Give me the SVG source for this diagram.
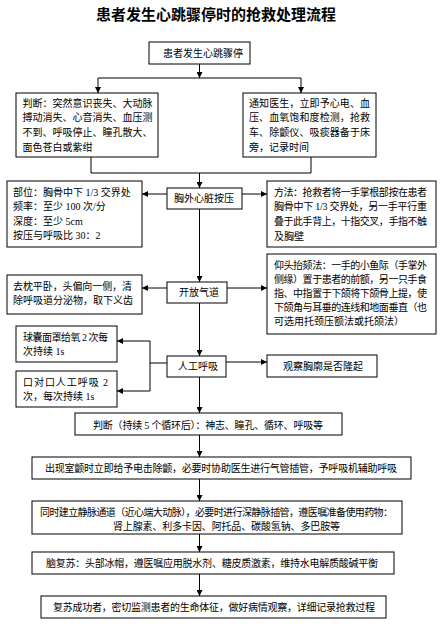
<svg xmlns="http://www.w3.org/2000/svg" width="442" height="629" viewBox="0 0 442 629">
<style>
.b{fill:#fff;stroke:#000;stroke-width:1}
.t{font-family:"Liberation Serif","Noto Sans CJK SC",serif;font-size:10px;fill:#000}
.ttl{font-family:"Noto Sans CJK SC","Liberation Sans",sans-serif;font-size:15px;font-weight:bold;fill:#000}
.c{fill:none;stroke:#000;stroke-width:1}
</style>
<defs>
<marker id="ah" markerUnits="userSpaceOnUse" markerWidth="6" markerHeight="6" refX="6" refY="3" orient="auto">
<path d="M0,0 L6,3 L0,6 z" fill="#000"/>
</marker>
</defs>
<rect width="442" height="629" fill="#fff"/>
<text class="ttl" x="216" y="20" text-anchor="middle">患者发生心跳骤停时的抢救处理流程</text>

<g id="connectors">
<path class="c" d="M199.5,64 V78" marker-end="url(#ah)"/>
<path class="c" d="M98,78 H301"/>
<path class="c" d="M98,78 V93" marker-end="url(#ah)"/>
<path class="c" d="M301,78 V93" marker-end="url(#ah)"/>
<path class="c" d="M91,157 V173 H311 V157"/>
<path class="c" d="M199.5,173 V188" marker-end="url(#ah)"/>
<path class="c" d="M167,194 H142" marker-end="url(#ah)"/>
<path class="c" d="M242,194 H267" marker-end="url(#ah)"/>
<path class="c" d="M199.5,209 V282" marker-end="url(#ah)"/>
<path class="c" d="M167,288 H142" marker-end="url(#ah)"/>
<path class="c" d="M227,288 H267" marker-end="url(#ah)"/>
<path class="c" d="M199.5,303 V356" marker-end="url(#ah)"/>
<path class="c" d="M226,362 H267" marker-end="url(#ah)"/>
<path class="c" d="M167,363 H150"/>
<path class="c" d="M150,341 V391"/>
<path class="c" d="M150,341 H117" marker-end="url(#ah)"/>
<path class="c" d="M150,391 H117" marker-end="url(#ah)"/>
<path class="c" d="M199.5,377 V413" marker-end="url(#ah)"/>
<path class="c" d="M199.5,435 V457" marker-end="url(#ah)"/>
<path class="c" d="M199.5,479 V501" marker-end="url(#ah)"/>
<path class="c" d="M199.5,534 V552" marker-end="url(#ah)"/>
<path class="c" d="M199.5,574 V596" marker-end="url(#ah)"/>
</g>

<g id="n_start">
<rect class="b" x="149" y="42" width="101" height="22"/>
<text class="t" x="163" y="56.5">患者发生心跳骤停</text>
</g>

<g id="n_judge1">
<rect class="b" x="16" y="93" width="142" height="64"/>
<text class="t" x="22.5" y="107" textLength="130" lengthAdjust="spacing">判断：突然意识丧失、大动脉</text>
<text class="t" x="22.5" y="121" textLength="130" lengthAdjust="spacing">搏动消失、心音消失、血压测</text>
<text class="t" x="22.5" y="136" textLength="130" lengthAdjust="spacing">不到、呼吸停止、瞳孔散大、</text>
<text class="t" x="22.5" y="150.5">面色苍白或紫绀</text>
</g>

<g id="n_notify">
<rect class="b" x="243" y="93" width="133" height="64"/>
<text class="t" x="249" y="107" textLength="121" lengthAdjust="spacing">通知医生，立即予心电、血</text>
<text class="t" x="249" y="121" textLength="121" lengthAdjust="spacing">压、血氧饱和度检测，抢救</text>
<text class="t" x="249" y="136" textLength="121" lengthAdjust="spacing">车、除颤仪、吸痰器备于床</text>
<text class="t" x="249" y="150.5">旁，记录时间</text>
</g>

<g id="n_cpr">
<rect class="b" x="167" y="188" width="75" height="21"/>
<text class="t" x="174" y="202">胸外心脏按压</text>
</g>

<g id="n_cpr_param">
<rect class="b" x="7" y="181" width="135" height="66"/>
<text class="t" x="13" y="195.5">部位：胸骨中下 1/3 交界处</text>
<text class="t" x="13" y="209.5">频率：至少 100 次/分</text>
<text class="t" x="13" y="224.5">深度：至少 5cm</text>
<text class="t" x="13" y="238.5">按压与呼吸比 30：2</text>
</g>

<g id="n_cpr_method">
<rect class="b" x="267" y="181" width="169" height="66"/>
<text class="t" x="274" y="195.5" textLength="153" lengthAdjust="spacing">方法：抢救者将一手掌根部按在患者</text>
<text class="t" x="274" y="210" textLength="153" lengthAdjust="spacing">胸骨中下 1/3 交界处，另一手平行重</text>
<text class="t" x="274" y="225" textLength="153" lengthAdjust="spacing">叠于此手背上，十指交叉，手指不触</text>
<text class="t" x="274" y="239.5">及胸壁</text>
</g>

<g id="n_airway">
<rect class="b" x="167" y="282" width="60" height="21"/>
<text class="t" x="179" y="296">开放气道</text>
</g>

<g id="n_airway_left">
<rect class="b" x="7" y="275" width="135" height="39"/>
<text class="t" x="13" y="289.5" textLength="119" lengthAdjust="spacing">去枕平卧，头偏向一侧，清</text>
<text class="t" x="13" y="303.5">除呼吸道分泌物，取下义齿</text>
</g>

<g id="n_airway_right">
<rect class="b" x="267" y="254" width="169" height="80"/>
<text class="t" x="274" y="268.5" textLength="153" lengthAdjust="spacing">仰头抬颏法：一手的小鱼际（手掌外</text>
<text class="t" x="274" y="283" textLength="153" lengthAdjust="spacing">侧缘）置于患者的前额，另一只手食</text>
<text class="t" x="274" y="297" textLength="153" lengthAdjust="spacing">指、中指置于下颌将下颌骨上提，使</text>
<text class="t" x="274" y="311" textLength="153" lengthAdjust="spacing">下颌角与耳垂的连线和地面垂直（也</text>
<text class="t" x="274" y="325">可选用托颈压额法或托颌法）</text>
</g>

<g id="n_breath">
<rect class="b" x="167" y="356" width="59" height="21"/>
<text class="t" x="178" y="370">人工呼吸</text>
</g>

<g id="n_observe">
<rect class="b" x="267" y="355" width="110" height="22"/>
<text class="t" x="283" y="369.5">观察胸廓是否隆起</text>
</g>

<g id="n_bag">
<rect class="b" x="16" y="326" width="101" height="36"/>
<text class="t" x="23" y="341" textLength="85" lengthAdjust="spacing">球囊面罩给氧 2 次每</text>
<text class="t" x="23" y="355">次持续 1s</text>
</g>

<g id="n_mouth">
<rect class="b" x="16" y="371" width="101" height="36"/>
<text class="t" x="23" y="386" textLength="85" lengthAdjust="spacing">口对口人工呼吸 2</text>
<text class="t" x="23" y="400">次，每次持续 1s</text>
</g>

<g id="n_judge2">
<rect class="b" x="75" y="413" width="267" height="22"/>
<text class="t" x="93" y="428.5" textLength="230" lengthAdjust="spacing">判断（持续 5 个循环后）：神志、瞳孔、循环、呼吸等</text>
</g>

<g id="n_defib">
<rect class="b" x="32" y="457" width="379" height="22"/>
<text class="t" x="45" y="471.5" textLength="352" lengthAdjust="spacing">出现室颤时立即给予电击除颤，必要时协助医生进行气管插管，予呼吸机辅助呼吸</text>
</g>

<g id="n_iv">
<rect class="b" x="32" y="501" width="370" height="33"/>
<text class="t" x="40" y="515.5" textLength="353" lengthAdjust="spacing">同时建立静脉通道（近心端大动脉），必要时进行深静脉插管，遵医嘱准备使用药物：</text>
<text class="t" x="113" y="529.5" textLength="227" lengthAdjust="spacing">肾上腺素、利多卡因、阿托品、碳酸氢钠、多巴胺等</text>
</g>

<g id="n_brain">
<rect class="b" x="32" y="552" width="362" height="22"/>
<text class="t" x="46" y="567" textLength="332" lengthAdjust="spacing">脑复苏：头部冰帽，遵医嘱应用脱水剂、糖皮质激素，维持水电解质酸碱平衡</text>
</g>

<g id="n_success">
<rect class="b" x="41" y="596" width="345" height="22"/>
<text class="t" x="53" y="611" textLength="322" lengthAdjust="spacing">复苏成功者，密切监测患者的生命体征，做好病情观察，详细记录抢救过程</text>
</g>
</svg>
